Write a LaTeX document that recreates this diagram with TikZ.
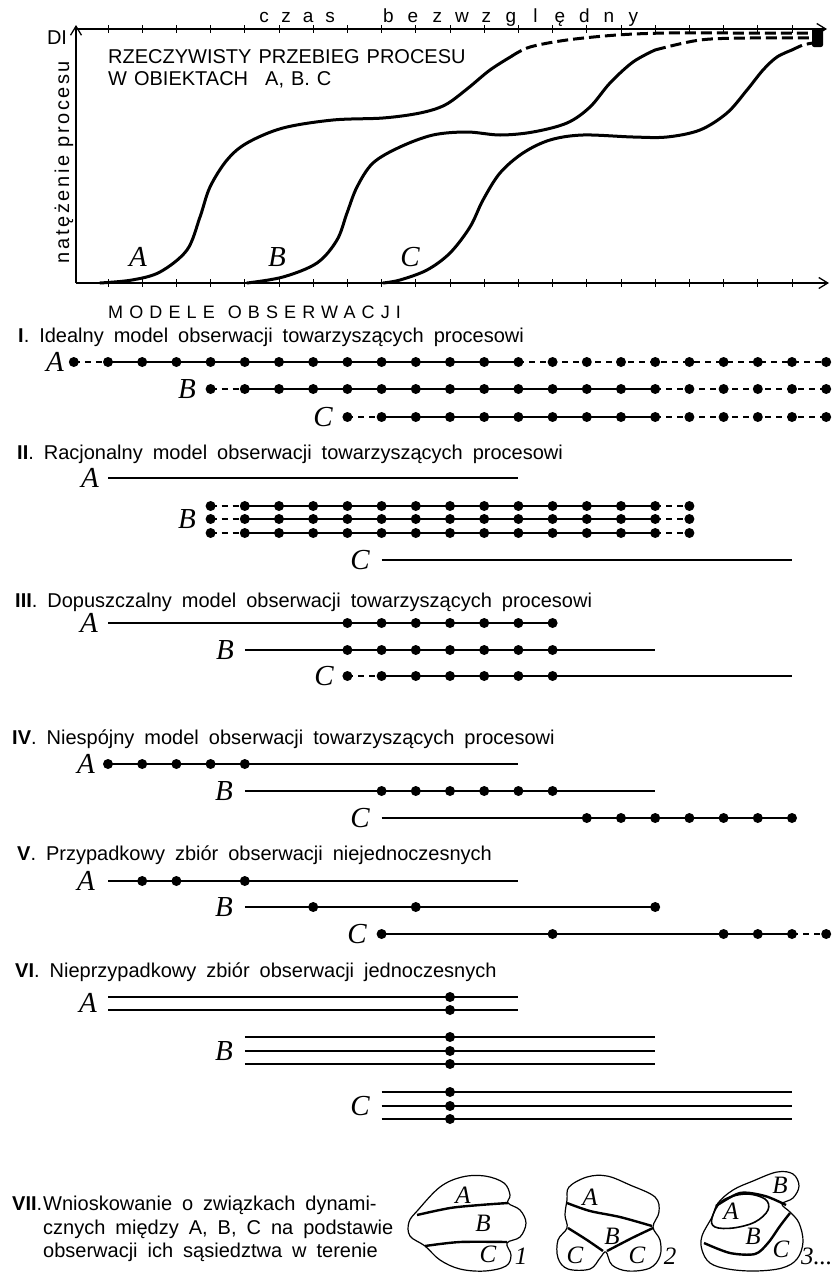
\documentclass[tikz,border=0pt]{standalone}
\usepackage{fontspec}
\setmainfont{Liberation Sans}
\newfontfamily\serifit{Liberation Serif}
\usetikzlibrary{arrows.meta}
\makeatletter
\newcommand\spread[2]{\def\spread@w{#1}\spread@loop#2\@nil}
\def\spread@loop#1{\ifx#1\@nil\else\makebox[\spread@w][c]{#1}\expandafter\spread@loop\fi}
\makeatother
\newcommand\wspa{\spaceskip 10pt plus 2pt\relax}
\newcommand\wspb{\spaceskip 10pt plus 2pt\relax}
\newcommand\wspc{\spaceskip 7pt plus 2pt\relax}
\newcommand\ttlfont{\fontsize{20}{26}\selectfont\wspa}
\newcommand\sevfont{\fontsize{20}{26}\selectfont\wspb}
\newcommand\chfont{\fontsize{20}{26}\selectfont\wspc}
\newcommand\lsfont{\fontsize{20}{20}\selectfont\addfontfeature{LetterSpace=13}}
\newcommand\modfont{\fontsize{18}{18}\selectfont\addfontfeature{LetterSpace=34}}
\newcommand\obsline[4]{\draw[#1] ({73.8+34.2*#2},#4) -- ({73.8+34.2*#3},#4);}
\newcommand\obsdots[2]{\foreach \k in {#1}{\fill ({73.8+34.2*\k},#2) circle[radius=5pt];}}
\tikzset{
  axisline/.style={line width=1.4pt},
  tick/.style={line width=1pt},
  curve/.style={line width=3pt, line cap=round},
  dcurve/.style={line width=3pt, dash pattern=on 11pt off 5pt},
  obs/.style={line width=1.8pt},
  obsd/.style={line width=1.6pt, dash pattern=on 6pt off 5pt},
  lab/.style={font=\fontsize{29}{29}\serifit\itshape, inner sep=0pt, anchor=center},
  blab/.style={font=\fontsize{25}{25}\serifit\itshape, inner sep=0pt, anchor=center},
  ttl/.style={anchor=base west, inner sep=0pt, font=\ttlfont},
  sev/.style={anchor=base west, inner sep=0pt, font=\sevfont},
  cht/.style={anchor=base west, inner sep=0pt, font=\chfont},
  sp/.style={anchor=base west, inner sep=0pt, font=\fontsize{19}{19}\selectfont},
  blob/.style={line width=1.2pt},
  bdiv/.style={line width=2.4pt},
  arr/.style={-{Straight Barb[length=9pt,width=11pt,line width=1.3pt]}}
}
\begin{document}
\begin{tikzpicture}[x=1pt,y=-1pt]
\useasboundingbox (0,0) rectangle (837,1272);
\fill[white] (0,0) rectangle (837,1272);
% ---------------- chart ----------------
\coordinate (O) at (76,283);
\coordinate (Ytop) at (76,25);
\coordinate (Xend) at (829,283);
\coordinate (Ts) at (76,29);
\coordinate (Te) at (827,29);
\draw[axisline,arr] (O) -- (Ytop);
\draw[axisline,arr] (O) -- (Xend);
\draw[axisline,arr] (Ts) -- (Te);
\foreach \k in {1,...,21}{
  \draw[tick] ({73.8+34.2*\k},25) -- ++(0,8);
  \draw[tick] ({73.8+34.2*\k},279) -- ++(0,8);
}
\node[sp] (czas) at (253,22) {\spread{22pt}{czas}};
\node[sp] (bezw) at (376,22) {\spread{24.5pt}{bezwzględny}};
\node[inner sep=0pt, font=\fontsize{20}{20}\selectfont] (DI) at (57,38) {DI};
\node[rotate=90, inner sep=0pt, font=\lsfont] (nat) at (64,162) {natężenie\hspace{8pt}procesu};
\node[cht] (tyt1) at (108,63) {RZECZYWISTY PRZEBIEG PROCESU};
\node[cht] (tyt2) at (108,85) {W OBIEKTACH\hspace{10pt} A, B. C};
% curves
\draw[curve] plot[smooth,tension=0.55] coordinates {(100,283) (132,280) (160,272) (187,250) (200,217) (210,187) (227,160) (247,143) (283,128) (333,120) (383,118) (420,113) (445,105) (467,89) (490,70) (512,56)};
\draw[dcurve] plot[smooth,tension=0.55] coordinates {(512,56) (530,47) (567,40) (617,35) (667,33) (733,33) (812,33)};
\draw[curve] plot[smooth,tension=0.55] coordinates {(247,283) (283,277) (317,263) (337,240) (347,213) (357,187) (373,163) (400,147) (433,135) (467,132) (500,135) (533,132) (567,123) (590,107) (610,83) (633,62) (655,50)};
\draw[dcurve] plot[smooth,tension=0.55] coordinates {(655,50) (700,40) (750,38) (812,38)};
\draw[curve] plot[smooth,tension=0.55] coordinates {(383,283) (400,280) (427,270) (450,253) (470,227) (483,200) (500,173) (523,153) (550,140) (583,135) (633,137) (667,137) (700,130) (727,113) (747,90) (763,70) (777,57) (792,50)};
\draw[dcurve] plot[smooth,tension=0.55] coordinates {(792,50) (803,45) (813,43)};
\fill[rounded corners=2pt] (812,28) rectangle (823,47);
\node[lab] (cA) at (138,257) {A};
\node[lab] (cB) at (277,257) {B};
\node[lab] (cC) at (410,257) {C};
% ---------------- models ----------------
\node[anchor=base west, inner sep=0pt, font=\modfont] (modele) at (108,318) {MODELE\hspace{13pt}OBSERWACJI};
% I
\node[ttl] (t1) at (18,342) {\textbf{I}. Idealny model obserwacji towarzyszących procesowi};
\node[lab] (IA) at (55,362) {A};
\obsline{obsd}{0}{1}{362}\obsline{obs}{1}{13}{362}\obsline{obsd}{13}{22}{362}
\obsdots{0,...,22}{362}
\node[lab] (IB) at (187,389) {B};
\obsline{obsd}{4}{5}{389}\obsline{obs}{5}{17}{389}\obsline{obsd}{17}{22}{389}
\obsdots{4,...,22}{389}
\node[lab] (IC) at (323,417) {C};
\obsline{obsd}{8}{9}{417}\obsline{obs}{9}{17}{417}\obsline{obsd}{17}{22}{417}
\obsdots{8,...,22}{417}
% II
\node[ttl] (t2) at (17,459) {\textbf{II}. Racjonalny model obserwacji towarzyszących procesowi};
\node[lab] (IIA) at (90,478) {A};
\obsline{obs}{1}{13}{478}
\node[lab] (IIB) at (187,519) {B};
\foreach \yy in {506,519,533}{
  \obsline{obsd}{4}{5}{\yy}\obsline{obs}{5}{17}{\yy}\obsline{obsd}{17}{18}{\yy}
  \obsdots{4,...,18}{\yy}
}
\node[lab] (IIC) at (360,560) {C};
\obsline{obs}{9}{21}{560}
% III
\node[ttl] (t3) at (15,607) {\textbf{III}. Dopuszczalny model obserwacji towarzyszących procesowi};
\node[lab] (IIIA) at (89,623) {A};
\obsline{obs}{1}{14}{623}\obsdots{8,...,14}{623}
\node[lab] (IIIB) at (225,650) {B};
\obsline{obs}{5}{17}{650}\obsdots{8,...,14}{650}
\node[lab] (IIIC) at (324,676) {C};
\obsline{obsd}{8}{9}{676}\obsline{obs}{9}{21}{676}\obsdots{8,...,14}{676}
% IV
\node[ttl] (t4) at (12,744) {\textbf{IV}. Niespójny model obserwacji towarzyszących procesowi};
\node[lab] (IVA) at (86,764) {A};
\obsline{obs}{1}{13}{764}\obsdots{1,...,5}{764}
\node[lab] (IVB) at (224,791) {B};
\obsline{obs}{5}{17}{791}\obsdots{9,...,14}{791}
\node[lab] (IVC) at (360,818) {C};
\obsline{obs}{9}{21}{818}\obsdots{15,...,21}{818}
% V
\node[ttl] (t5) at (17,860) {\textbf{V}. Przypadkowy zbiór obserwacji niejednoczesnych};
\node[lab] (VA) at (86,881) {A};
\obsline{obs}{1}{13}{881}\obsdots{2,3,5}{881}
\node[lab] (VB) at (224,907) {B};
\obsline{obs}{5}{17}{907}\obsdots{7,10,17}{907}
\node[lab] (VC) at (357,934) {C};
\obsline{obs}{9}{21}{934}\obsline{obsd}{21}{22}{934}\obsdots{9,14,19,20,21,22}{934}
% VI
\node[ttl] (t6) at (15,977) {\textbf{VI}. Nieprzypadkowy zbiór obserwacji jednoczesnych};
\node[lab] (VIA) at (88,1003) {A};
\foreach \yy in {997,1010}{\obsline{obs}{1}{13}{\yy}\obsdots{11}{\yy}}
\node[lab] (VIB) at (224,1051) {B};
\foreach \yy in {1037,1051,1064}{\obsline{obs}{5}{17}{\yy}\obsdots{11}{\yy}}
\node[lab] (VIC) at (360,1106) {C};
\foreach \yy in {1092,1106,1119}{\obsline{obs}{9}{21}{\yy}\obsdots{11}{\yy}}
% VII
\node[ttl] (t7) at (12,1210) {\textbf{VII}.};
\node[sev] (t7a) at (43,1210) {Wnioskowanie o związkach dynami-};
\node[sev] (t7b) at (43,1234) {cznych między A, B, C na podstawie};
\node[sev] (t7c) at (43,1257) {obserwacji ich sąsiedztwa w terenie};
% blob 1
\draw[blob] plot[smooth cycle, tension=0.6] coordinates {(418,1210) (440,1187) (462,1177) (485,1176) (504,1183) (510,1195) (508,1203) (520,1210) (526,1223) (520,1237) (507,1243) (511,1255) (506,1266) (485,1271) (460,1269) (440,1260) (425,1246) (410,1236) (409,1222)};
\draw[bdiv] plot[smooth] coordinates {(417,1215) (450,1208) (480,1205) (508,1203)};
\draw[bdiv] plot[smooth] coordinates {(425,1246) (460,1242) (507,1242)};
\node[blab] (b1A) at (463,1195) {A};
\node[blab] (b1B) at (483,1223) {B};
\node[blab] (b1C) at (488,1254) {C};
\node[blab] (b1n) at (521,1256) {1};
% blob 2
\draw[blob] plot[smooth cycle, tension=0.6] coordinates {(567,1200) (569,1187) (587,1177) (607,1176) (630,1185) (655,1197) (659,1212) (653,1227) (660,1240) (660,1256) (650,1268) (628,1271) (612,1265) (606,1252) (600,1258) (590,1269) (568,1269) (558,1258) (558,1240) (567,1228) (565,1215)};
\draw[bdiv] plot[smooth] coordinates {(567,1203) (590,1211) (620,1217) (652,1226)};
\draw[bdiv] plot[smooth] coordinates {(568,1228) (587,1240) (603,1251)};
\draw[bdiv] plot[smooth] coordinates {(653,1228) (632,1238) (607,1251)};
\node[blab] (b2A) at (590,1197) {A};
\node[blab] (b2B) at (612,1236) {B};
\node[blab] (b2C1) at (575,1255) {C};
\node[blab] (b2C2) at (637,1255) {C};
\node[blab] (b2n) at (670,1256) {2};
% blob 3
\draw[blob] plot[smooth cycle, tension=0.6] coordinates {(712,1217) (718,1203) (733,1190) (753,1181) (777,1172) (793,1174) (799,1186) (793,1198) (782,1204) (790,1212) (799,1223) (803,1242) (797,1259) (782,1268) (755,1271) (728,1269) (710,1263) (702,1250) (702,1236)};
\draw[line width=1.6pt] plot[smooth cycle, tension=0.6] coordinates {(712,1218) (722,1201) (745,1194) (765,1199) (768,1210) (755,1222) (733,1228) (715,1227)};
\draw[bdiv] plot[smooth] coordinates {(716,1206) (740,1193) (765,1196) (786,1205)};
\draw[bdiv] plot[smooth] coordinates {(704,1243) (730,1253) (755,1254) (768,1243) (780,1226) (790,1213)};
\node[blab] (b3B1) at (780,1185) {B};
\node[blab] (b3A) at (731,1211) {A};
\node[blab] (b3B2) at (753,1236) {B};
\node[blab] (b3C) at (781,1249) {C};
\node[blab, anchor=west] (b3n) at (801,1256) {3...};
\end{tikzpicture}
\end{document}
